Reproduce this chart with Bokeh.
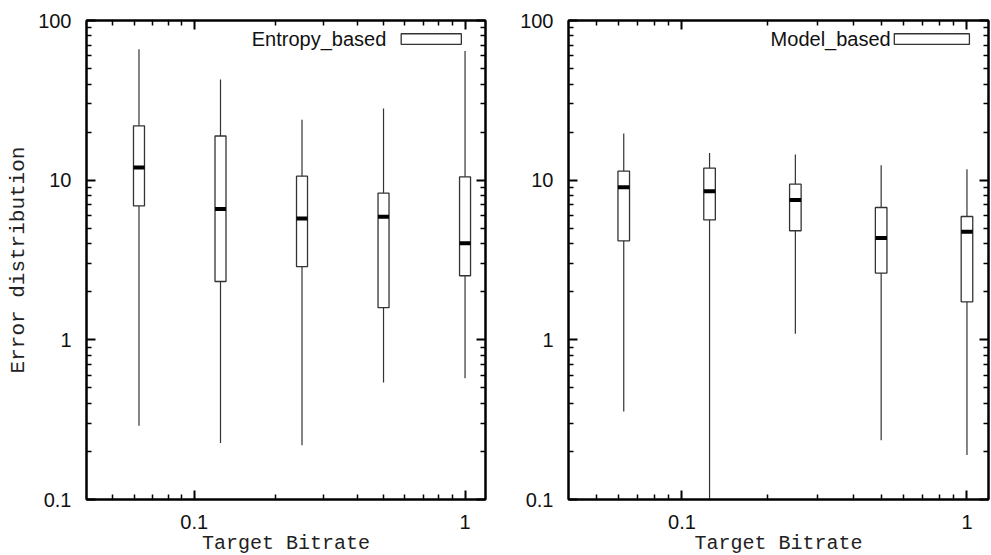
from bokeh.plotting import figure
from bokeh.layouts import row
from bokeh.models import (LogAxis, FixedTicker, BasicTickFormatter, Label, BoxAnnotation,
                          ColumnDataSource)
from bokeh.embed import file_html
from bokeh.resources import INLINE

# ---------------- data ----------------
bitrates = [0.0625, 0.125, 0.25, 0.5, 1.0]

entropy_whisker_low = [0.29, 0.226, 0.219, 0.54, 0.575]
entropy_q1 = [6.9, 2.32, 2.87, 1.59, 2.52]
entropy_median = [12.0, 6.6, 5.75, 5.89, 4.03]
entropy_q3 = [21.9, 18.9, 10.6, 8.3, 10.5]
entropy_whisker_high = [66.0, 42.7, 23.9, 28.1, 64.5]

model_whisker_low = [0.356, 0.1, 1.09, 0.235, 0.19]
model_q1 = [4.17, 5.64, 4.82, 2.62, 1.73]
model_median = [9.04, 8.53, 7.5, 4.35, 4.75]
model_q3 = [11.4, 11.9, 9.44, 6.74, 5.92]
model_whisker_high = [19.6, 14.8, 14.5, 12.4, 11.7]

x_major = [0.1, 1]
x_minor = [0.05, 0.06, 0.07, 0.08, 0.09, 0.2, 0.3, 0.4, 0.5, 0.6, 0.7, 0.8, 0.9]
y_major = [0.1, 1, 10, 100]
y_minor = [m * d for d in (0.1, 1, 10) for m in range(2, 10)]

x_label = "Target Bitrate"
y_label = "Error distribution"

BOX_HALF = 10 ** 0.0203   # multiplicative half-width of a box on the log axis

TICK_FONT = "Liberation Sans"
LABEL_FONT = "Liberation Mono"


def style_axis(ax, labels=True):
    ax.axis_line_width = 2
    ax.axis_line_color = "black"
    ax.major_tick_in = 9
    ax.major_tick_out = 0
    ax.minor_tick_in = 5
    ax.minor_tick_out = 0
    ax.major_tick_line_width = 2
    ax.minor_tick_line_width = 1.5
    ax.major_tick_line_color = "black"
    ax.minor_tick_line_color = "black"
    if labels:
        ax.major_label_text_font = TICK_FONT
        ax.major_label_text_font_size = "20px"
        ax.major_label_text_color = "#111111"
        ax.formatter = BasicTickFormatter(use_scientific=False)
    else:
        ax.major_label_text_font_size = "1px"
        ax.major_label_text_alpha = 0
        ax.major_label_standoff = 0


def make_panel(name, lo, q1, med, q3, hi, frame_w, border_l, border_r, x_end,
               leg_text_x, leg_box_l, leg_box_r, show_ylabel):
    p = figure(x_axis_type="log", y_axis_type="log",
               x_range=(0.04, x_end), y_range=(0.1, 100),
               frame_width=frame_w, frame_height=479,
               min_border_left=border_l, min_border_right=border_r,
               min_border_top=20, min_border_bottom=56,
               output_backend="svg", toolbar_location=None)
    p.grid.visible = False
    p.outline_line_color = "black"
    p.outline_line_width = 2
    p.background_fill_color = "white"
    p.border_fill_color = "white"

    xt = FixedTicker(ticks=x_major, minor_ticks=x_minor)
    yt = FixedTicker(ticks=y_major, minor_ticks=y_minor)

    xa = p.xaxis[0]
    xa.ticker = xt
    style_axis(xa)
    xa.major_label_standoff = 15
    xa.axis_label = x_label
    xa.axis_label_text_font = LABEL_FONT
    xa.axis_label_text_font_size = "20px"
    xa.axis_label_text_font_style = "normal"
    xa.axis_label_text_color = "#222222"
    xa.axis_label_standoff = 0

    ya = p.yaxis[0]
    ya.ticker = yt
    style_axis(ya)
    ya.major_label_standoff = 15
    if show_ylabel:
        ya.axis_label = y_label
        ya.axis_label_text_font = LABEL_FONT
        ya.axis_label_text_font_size = "21px"
        ya.axis_label_text_font_style = "normal"
        ya.axis_label_text_color = "#222222"
        ya.axis_label_standoff = 5

    top = LogAxis(ticker=FixedTicker(ticks=x_major, minor_ticks=x_minor))
    style_axis(top, labels=False)
    p.add_layout(top, "above")
    right = LogAxis(ticker=FixedTicker(ticks=y_major, minor_ticks=y_minor))
    style_axis(right, labels=False)
    p.add_layout(right, "right")

    src = ColumnDataSource(dict(
        x=bitrates,
        left=[b / BOX_HALF for b in bitrates],
        right=[b * BOX_HALF for b in bitrates],
        lo=lo, q1=q1, med=med, q3=q3, hi=hi,
    ))
    p.segment(x0="x", x1="x", y0="lo", y1="hi", source=src,
              line_color="#333333", line_width=1.2)
    p.quad(left="left", right="right", bottom="q1", top="q3", source=src,
           fill_color="white", line_color="#333333", line_width=1.3)
    p.segment(x0="left", x1="right", y0="med", y1="med", source=src,
              line_color="black", line_width=4)

    # legend (label left of swatch, like the original)
    p.add_layout(Label(x=leg_text_x, y=76.4, text=name, text_align="right",
                       text_baseline="middle", text_font=TICK_FONT,
                       text_font_size="20px", text_color="#111111"))
    p.add_layout(BoxAnnotation(left=leg_box_l, right=leg_box_r, bottom=70.8, top=82.6,
                               fill_color="white", fill_alpha=1.0,
                               line_color="#333333", line_width=1.3, line_alpha=1.0))
    return p


p1 = make_panel("Entropy_based", entropy_whisker_low, entropy_q1, entropy_median,
                entropy_q3, entropy_whisker_high, 399, 86, 8, 1.19,
                0.512, 0.581, 0.969, True)
p2 = make_panel("Model_based", model_whisker_low, model_q1, model_median,
                model_q3, model_whisker_high, 420, 75, 3, 1.19,
                0.540, 0.556, 1.02, False)

layout = row(p1, p2, spacing=0)
open("out.html", "w").write(file_html(layout, INLINE))
